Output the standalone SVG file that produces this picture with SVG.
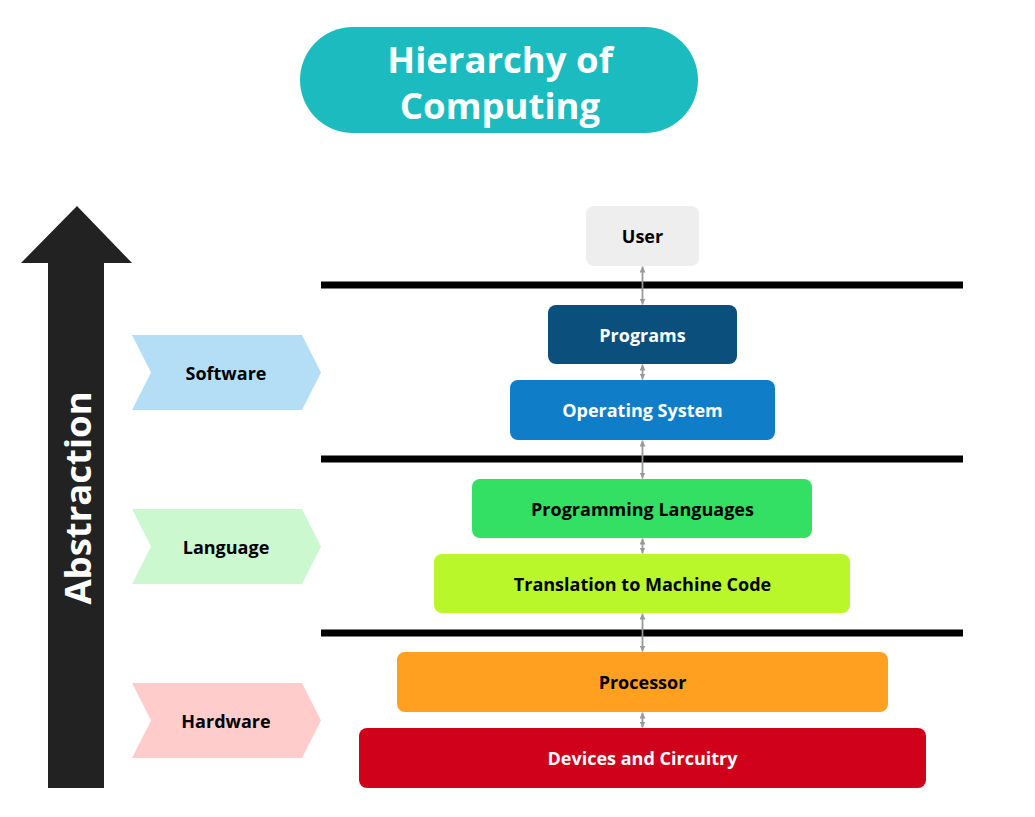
<svg xmlns="http://www.w3.org/2000/svg" width="1035" height="817" viewBox="0 0 1035 817">
<defs>
<marker id="ah" viewBox="0 0 10 10" refX="10" refY="5" markerWidth="6" markerHeight="6" orient="auto-start-reverse" markerUnits="userSpaceOnUse">
<path d="M0,0 L10,5 L0,10 z" fill="#999999"/>
</marker>
<style>
.lbl{font-family:"Open Sans","Liberation Sans",sans-serif;font-weight:bold;font-size:18px;text-anchor:middle;dominant-baseline:central}
.w{fill:#ffffff}
.k{fill:#000000}
.conn{stroke:#999999;stroke-width:1.8;fill:none;marker-start:url(#ah);marker-end:url(#ah)}
.sep{fill:#000000}
</style>
</defs>
<rect width="1035" height="817" fill="#ffffff"/>
<g id="title">
<rect x="300" y="27" width="398" height="106" rx="53" fill="#1BBBBF"/>
<text x="500" y="59" font-family="'Open Sans','Liberation Sans',sans-serif" font-weight="bold" font-size="36.5" fill="#ffffff" text-anchor="middle" dominant-baseline="central">Hierarchy of</text>
<text x="500" y="104.5" font-family="'Open Sans','Liberation Sans',sans-serif" font-weight="bold" font-size="36.5" fill="#ffffff" text-anchor="middle" dominant-baseline="central">Computing</text>
</g>
<g id="abstraction-arrow">
<path d="M48,788 L48,263 L21,263 L77,206 L132,263 L104,263 L104,788 Z" fill="#222222"/>
<text x="77" y="498" transform="rotate(-90 77 498)" font-family="'Open Sans','Liberation Sans',sans-serif" font-weight="bold" font-size="36.5" fill="#ffffff" text-anchor="middle" dominant-baseline="central">Abstraction</text>
</g>
<g id="separators">
<rect x="321" y="281.5" width="642" height="7" class="sep"/>
<rect x="321" y="455.5" width="642" height="7" class="sep"/>
<rect x="321" y="629.5" width="642" height="7" class="sep"/>
</g>
<g id="software">
<path d="M132,335 L302,335 L321,372.5 L302,410 L132,410 L151,372.5 Z" fill="#B3DEF6"/>
<text x="226" y="372.5" class="lbl k">Software</text>
</g>
<g id="language">
<path d="M132,509 L302,509 L321,546.5 L302,584 L132,584 L151,546.5 Z" fill="#CCF8D0"/>
<text x="226" y="546.5" class="lbl k">Language</text>
</g>
<g id="hardware">
<path d="M132,683 L302,683 L321,720.5 L302,758 L132,758 L151,720.5 Z" fill="#FFCCCC"/>
<text x="226" y="720.5" class="lbl k">Hardware</text>
</g>
<g id="connectors">
<line x1="642.5" y1="266.5" x2="642.5" y2="304.5" class="conn"/>
<line x1="642.5" y1="364.5" x2="642.5" y2="379.5" class="conn"/>
<line x1="642.5" y1="440.5" x2="642.5" y2="478.5" class="conn"/>
<line x1="642.5" y1="538.5" x2="642.5" y2="553.5" class="conn"/>
<line x1="642.5" y1="613.5" x2="642.5" y2="651.5" class="conn"/>
<line x1="642.5" y1="712.5" x2="642.5" y2="727.5" class="conn"/>
</g>
<g id="user">
<rect x="586" y="206" width="113" height="60" rx="8" fill="#EEEEEE"/>
<text x="642.5" y="236" class="lbl k">User</text>
</g>
<g id="programs">
<rect x="548" y="305" width="189" height="59" rx="8" fill="#0B4F7D"/>
<text x="642.5" y="334.5" class="lbl w">Programs</text>
</g>
<g id="operating-system">
<rect x="510" y="380" width="265" height="60" rx="8" fill="#0F7DC8"/>
<text x="642.5" y="410" class="lbl w">Operating System</text>
</g>
<g id="programming-languages">
<rect x="472" y="479" width="340" height="59" rx="8" fill="#33E064"/>
<text x="642.5" y="508.5" class="lbl k">Programming Languages</text>
</g>
<g id="translation">
<rect x="434" y="554" width="416" height="59" rx="8" fill="#B9F72A"/>
<text x="642.5" y="583.5" class="lbl k">Translation to Machine Code</text>
</g>
<g id="processor">
<rect x="397" y="652" width="491" height="60" rx="8" fill="#FFA020"/>
<text x="642.5" y="682" class="lbl k">Processor</text>
</g>
<g id="devices">
<rect x="359" y="728" width="567" height="60" rx="8" fill="#D0021B"/>
<text x="642.5" y="758" class="lbl w">Devices and Circuitry</text>
</g>
</svg>
